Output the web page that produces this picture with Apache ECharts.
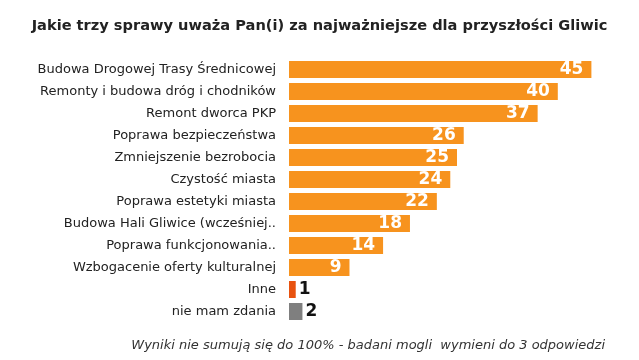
<!DOCTYPE html>
<html>
<head>
<meta charset="utf-8">
<script src="https://cdn.jsdelivr.net/npm/echarts@6/dist/echarts.min.js"></script>
<style>html,body{margin:0;padding:0;background:#fff}#c{width:639px;height:360px}</style>
</head>
<body>
<div id="c"></div>
<script>
const categories = [
  "Budowa Drogowej Trasy Średnicowej",
  "Remonty i budowa dróg i chodników",
  "Remont dworca PKP",
  "Poprawa bezpieczeństwa",
  "Zmniejszenie bezrobocia",
  "Czystość miasta",
  "Poprawa estetyki miasta",
  "Budowa Hali Gliwice (wcześniej..",
  "Poprawa funkcjonowania..",
  "Wzbogacenie oferty kulturalnej",
  "Inne",
  "nie mam zdania"
];
const values = [45, 40, 37, 26, 25, 24, 22, 18, 14, 9, 1, 2];
const titleText = "Jakie trzy sprawy uważa Pan(i) za najważniejsze dla przyszłości Gliwic";
const footerText = "Wyniki nie sumują się do 100% - badani mogli  wymieni do 3 odpowiedzi";

const FONT = "DejaVu Sans";
const specialColors = { "Inne": "#E8520F", "nie mam zdania": "#7F7F7F" };

const data = values.map((v, i) => {
  const cat = categories[i];
  const special = specialColors[cat];
  const item = { value: v, itemStyle: { color: special || "#F7931E" } };
  if (special) {
    item.label = { position: "right", color: "#111", distance: 3 };
  }
  return item;
});

const chart = echarts.init(document.getElementById("c"), null, { renderer: "canvas" });
chart.setOption({
  animation: false,
  backgroundColor: "#fff",
  title: [
    { text: titleText, left: "center", top: 14,
      textStyle: { fontFamily: FONT, fontSize: 14.6, fontWeight: "bold", color: "#222" } },
    { text: footerText, right: 29, top: 334,
      textStyle: { fontFamily: FONT, fontSize: 13, fontStyle: "italic", fontWeight: "normal", color: "#333" } }
  ],
  grid: { left: 289, right: 14, top: 58.5, bottom: 37.5, containLabel: false },
  xAxis: { type: "value", min: 0, max: 50, show: false },
  yAxis: {
    type: "category", inverse: true, data: categories,
    axisLine: { show: false }, axisTick: { show: false },
    axisLabel: { fontFamily: FONT, fontSize: 13, color: "#222", margin: 13 }
  },
  series: [{
    type: "bar", data: data, barWidth: 17,
    label: { show: true, position: "insideRight", distance: 8,
      fontFamily: FONT, fontSize: 17, fontWeight: "bold", color: "#fff" }
  }]
});
</script>
</body>
</html>
